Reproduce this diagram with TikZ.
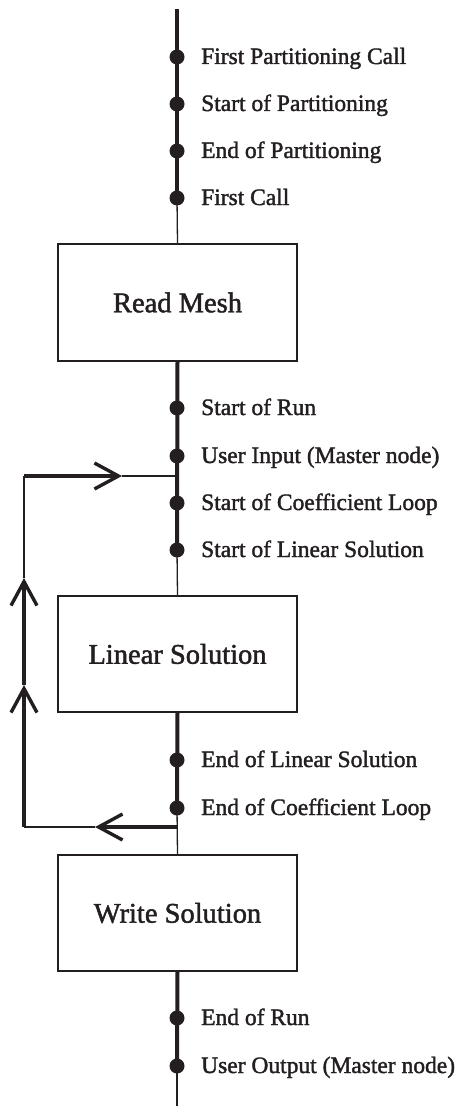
\documentclass[tikz,border=0pt]{standalone}
\usepackage{fontspec}
\setmainfont{Liberation Serif}
\newfontfamily\heavyserif[FakeBold=1.6]{Liberation Serif}
\usetikzlibrary{arrows.meta}
\definecolor{ink}{HTML}{231F20}
\begin{document}
\begin{tikzpicture}[x=1pt,y=-1pt,
  thickline/.style={draw=ink,line width=4pt},
  thinline/.style={draw=ink,line width=1.3pt},
  barb/.style={-{Straight Barb[length=24pt,width=26pt,line width=3.4pt]}},
  procbox/.style={draw=ink,line width=1.5pt,minimum width=239pt,inner sep=0pt,
    font=\heavyserif\fontsize{28.5}{34}\selectfont,text=ink},
  bigdot/.style={circle,fill=ink,draw=none,inner sep=0pt,minimum size=15pt},
  lbl/.style={anchor=base west,inner sep=0pt,font=\heavyserif\fontsize{23.5}{28}\selectfont,text=ink}]
\useasboundingbox (0,0) rectangle (459,1110);
% boxes
\node[procbox,minimum height=117pt] (rm) at (177.5,302.5) {Read Mesh};
\node[procbox,minimum height=116pt] (ls) at (177.5,654) {Linear Solution};
\node[procbox,minimum height=116pt] (ws) at (177.5,913) {Write Solution};
% main line points
\coordinate (top) at (177,9);
\coordinate (bot) at (177,1106);
\coordinate (d1) at (177,57);
\coordinate (d2) at (177,104);
\coordinate (d3) at (177,151);
\coordinate (d4) at (177,198);
\coordinate (d5) at (177,408);
\coordinate (d6) at (177,456);
\coordinate (d7) at (177,503);
\coordinate (d8) at (177,550);
\coordinate (d9) at (177,760);
\coordinate (d10) at (177,808);
\coordinate (d11) at (177,1018);
\coordinate (d12) at (177,1066);
% loop points
\coordinate (lin) at (177,476);
\coordinate (lout) at (177,827);
\coordinate (bl) at (24,827);
\coordinate (tl) at (24,476);
\coordinate (ab) at (95,827);
\coordinate (al1) at (24,685);
\coordinate (al2) at (24,578);
\coordinate (at) at (122,476);
% main line
\draw[thickline] (top) -- (d4);
\draw[thinline] (d4) -- (rm.north);
\draw[thickline] (rm.south) -- (d8);
\draw[thinline] (d8) -- (ls.north);
\draw[thickline] (ls.south) -- (d10);
\draw[thinline] (d10) -- (ws.north);
\draw[thickline] (ws.south) -- (d12);
\draw[thinline] (d12) -- (bot);
% loop
\draw[thickline,barb] (lout) -- (ab);
\draw[thinline] (ab) -- (bl);
\draw[thickline,barb] (bl) -- (al1);
\draw[thickline,barb] (al1) -- (al2);
\draw[thinline] (al2) -- (tl);
\draw[thickline,barb] (tl) -- (at);
\draw[thinline] (at) -- (lin);
% dots and labels
\foreach \d/\t in {d1/First Partitioning Call,d2/Start of Partitioning,d3/End of Partitioning,d4/First Call,d5/Start of Run,d6/User Input (Master node),d7/Start of Coefficient Loop,d8/Start of Linear Solution,d9/End of Linear Solution,d10/End of Coefficient Loop,d11/End of Run,d12/User Output (Master node)}{
  \node[bigdot] (n\d) at (\d) {};
  \node[lbl] (l\d) at ([xshift=24pt,yshift=-7pt]\d) {\t};
}
\end{tikzpicture}
\end{document}
